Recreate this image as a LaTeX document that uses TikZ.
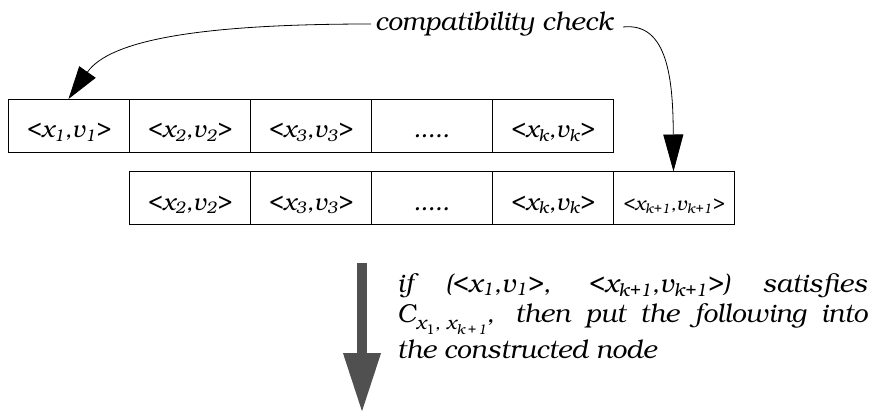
\documentclass[tikz,border=0pt]{standalone}
\usepackage[T1]{fontenc}
\usepackage{bookman}
\usepackage{amsmath}
\usetikzlibrary{arrows.meta}
\definecolor{downgray}{RGB}{80,80,80}
\newcommand{\pair}[1]{<x$_{\text{#1}}$,v$_{\text{#1}}$>}

\begin{document}
\begin{tikzpicture}[x=1pt, y=-1pt,
		cell/.style={draw, line width=0.9pt, minimum width=121pt, minimum height=53pt, inner sep=0pt, outer sep=0pt, text height=28pt, text depth=4pt, font=\fontsize{24}{28}\selectfont\itshape},
		checkarrow/.style={line width=0.8pt, -{Triangle[length=33pt, width=20pt]}}]
	\useasboundingbox (0,0) rectangle (882,415);
	\node[cell] (A1)at(68.5, 125.5) {\pair{1}};
	\node[cell] (A2)at(189.5, 125.5) {\pair{2}};
	\node[cell] (A3)at(310.5, 125.5) {\pair{3}};
	\node[cell] (A4)at(431.5, 125.5) {.....};
	\node[cell] (A5)at(552.5, 125.5) {\pair{k}};
	\node[cell] (B2)at(189.5, 198) {\pair{2}};
	\node[cell] (B3)at(310.5, 198) {\pair{3}};
	\node[cell] (B4)at(431.5, 198) {.....};
	\node[cell] (B5)at(552.5, 198) {\pair{k}};
	\node[cell, font=\fontsize{19.5}{24}\selectfont\itshape] (B6)at(673.5, 198) {\pair{k+1}};
	\node[font=\fontsize{26}{30}\selectfont\itshape, inner xsep=4pt] (check)at(494, 24) {compatibility check};
	\draw[checkarrow] (check.west) .. controls (200, 24) and (110, 40) .. (A1.north);
	\draw[checkarrow, -{Triangle[length=37pt, width=20pt]}] ([xshift=6pt, yshift=-3pt]check.east) .. controls (668, 22) and (673, 80) .. (B6.north);
	\coordinate (top)at(362, 263);
	\coordinate (tip)at(362, 413);
	\draw[downgray, line width=10pt, -{Triangle[length=60pt, width=35pt]}] (top) -- (tip);
	\node[anchor=north west, inner sep=0pt, text width=470pt, align=justify, font=\fontsize{26}{30}\selectfont\itshape] (cond)at(397, 273)
		{if (\pair{1}, \pair{k+1}) satisfies\linebreak
		C\raisebox{-7pt}{\fontsize{19}{19}\selectfont x\raisebox{-5pt}{\fontsize{14}{14}\selectfont\upshape 1}, x\raisebox{-5pt}{\fontsize{14}{14}\selectfont k\,+\,1}},\, then put the following into\vadjust{\vskip 4pt}\linebreak
		the constructed node};
\end{tikzpicture}
\end{document}
